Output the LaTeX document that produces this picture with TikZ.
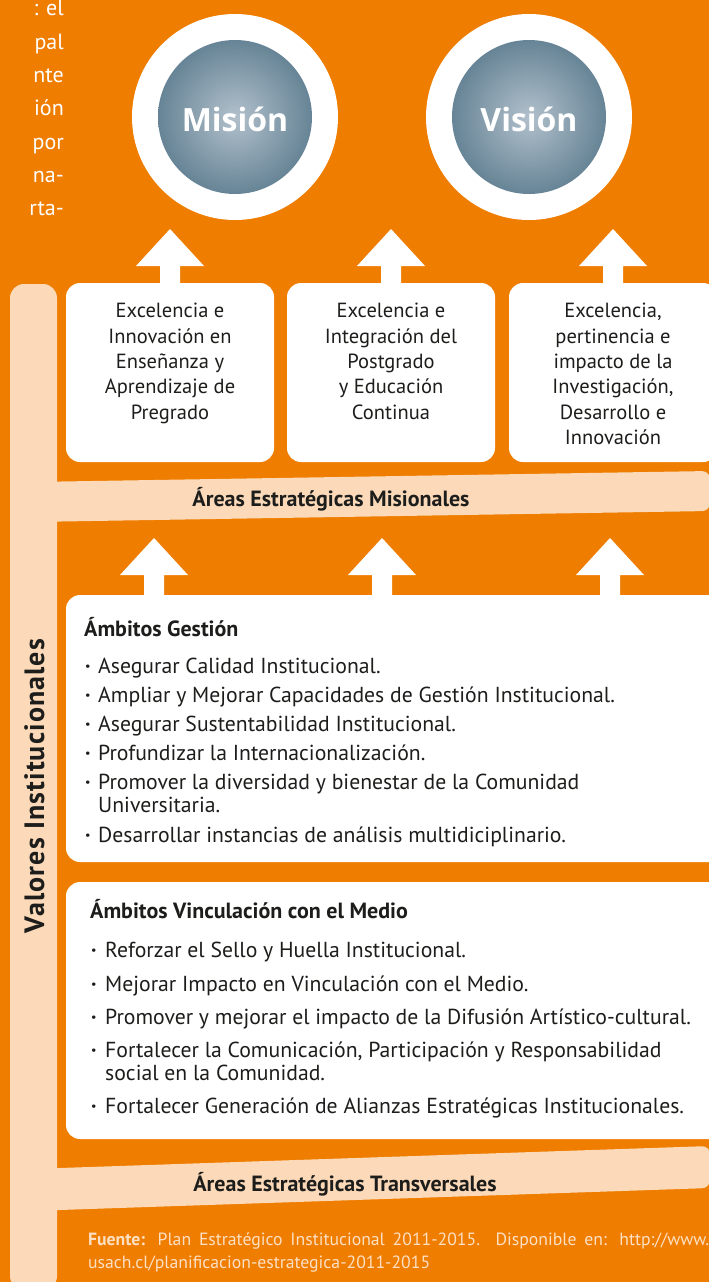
\documentclass[tikz,border=0pt]{standalone}
\usepackage{fontspec}
\setmainfont{PT Sans}
\newfontfamily\orbfont{Open Sans}
\usetikzlibrary{positioning}

\definecolor{usachorange}{RGB}{239,125,0}
\definecolor{usachpeach}{RGB}{252,218,185}
\definecolor{usachink}{RGB}{29,29,27}
\definecolor{orblight}{RGB}{178,192,204}
\definecolor{orbdark}{RGB}{27,73,96}
\definecolor{footink}{RGB}{253,224,196}

\pgfdeclareradialshading{orbshade}{\pgfpoint{0bp}{0bp}}{color(0bp)=(orblight); color(50bp)=(orbdark)}

\newlength{\du}
\setlength{\du}{1pt}

% block arrow: x, tip y, shaft length
\newcommand{\blockup}[3]{%
\fill[white] (#1,#2) -- ++(34,37) -- ++(-24,0) -- ++(0,#3) -- ++(-20,0) -- ++(0,-#3) -- ++(-24,0) -- cycle;}

\tikzset{
  whitebox/.style={fill=white, rounded corners=14\du},
  peachband/.style={fill=usachpeach, rounded corners=8\du},
  snippet/.style={anchor=base east, inner sep=0pt, text=white, font=\fontsize{22}{25}\selectfont},
  orbtext/.style={inner sep=0pt, text=white, font=\orbfont\bfseries\fontsize{32}{36}\selectfont},
  boxtext/.style={anchor=north, align=center, inner sep=0pt, text=usachink, font=\fontsize{20.5}{25.4}\selectfont},
  bandtext/.style={anchor=base, inner sep=0pt, text=usachink, font=\bfseries\fontsize{22}{24}\selectfont},
  listhead/.style={anchor=base west, inner sep=0pt, text=usachink, font=\bfseries\fontsize{22}{24}\selectfont},
  listtext/.style={anchor=base west, inner sep=0pt, text=usachink, font=\fontsize{21.7}{24}\selectfont},
  listdot/.style={anchor=base west, inner sep=0pt, text=usachink, font=\bfseries\fontsize{21.7}{24}\selectfont},
  footnote/.style={anchor=north west, inner sep=0pt, text width=621\du, align=justify, text=footink, font=\fontsize{17.7}{23}\selectfont}
}

\begin{document}
\begin{tikzpicture}[x=\du,y=-\du]
\useasboundingbox (0,0) rectangle (709,1282);
\fill[usachorange] (0,0) rectangle (709,1282);

% text column cut at the left edge
\foreach \txt [count=\i] in {{: el},pal,nte,ión,por,na-,rta-}
  \node[snippet] (cut\i) at (64,{16+33.3*(\i-1)}) {\txt};

% mision / vision
\fill[white] (235,117) circle (103);
\shade[shading=orbshade] (235,117) circle (77);
\node[orbtext] (mision) at (235,119) {Misión};
\fill[white] (529,117) circle (103);
\shade[shading=orbshade] (529,117) circle (77);
\node[orbtext] (vision) at (529,119) {Visión};

\blockup{170}{229}{20}
\blockup{391}{229}{20}
\blockup{613}{229}{20}

% valores bar and bands
\fill[usachpeach, rounded corners=14\du] (10,284) rectangle (57,1290);
\fill[peachband] (30,482) -- (710,471) -- (710,511) -- (30,522) -- cycle;
\fill[peachband] (30,1169) -- (710,1146) -- (710,1188) -- (30,1211) -- cycle;
\node[bandtext, rotate=90] (valores) at (44,786) {\fontsize{28}{30}\selectfont\addfontfeatures{LetterSpace=4}Valores Institucionales};
\node[bandtext] (misionales) at (331,506) {Áreas Estratégicas Misionales};
\node[bandtext] (transversales) at (345,1191) {Áreas Estratégicas Transversales};

% areas misionales
\fill[whitebox] (66,283) rectangle (274,462);
\fill[whitebox] (287,283) rectangle (495,462);
\fill[whitebox] (509,283) rectangle (717,462);
\node[boxtext] (pregrado) at (170,303) {Excelencia e\\Innovación en\\Enseñanza y\\Aprendizaje de\\Pregrado};
\node[boxtext] (postgrado) at (391,303) {Excelencia e\\Integración del\\Postgrado\\y Educación\\Continua};
\node[boxtext] (investigacion) at (613,303) {Excelencia,\\pertinencia e\\impacto de la\\Investigación,\\Desarrollo e\\Innovación};

\blockup{154}{538}{22}
\blockup{382}{538}{22}
\blockup{610}{538}{22}

% ambitos gestion
\fill[whitebox] (66,595) rectangle (725,862);
\node[listhead] (gestion) at (84,636) {Ámbitos Gestión};
\foreach \yy/\txt [count=\i] in {673/{Asegurar Calidad Institucional.},
    702/{Ampliar y Mejorar Capacidades de Gestión Institucional.},
    731/{Asegurar Sustentabilidad Institucional.},
    760/{Profundizar la Internacionalización.},
    789/{Promover la diversidad y bienestar de la Comunidad},
    842/{Desarrollar instancias de análisis multidiciplinario.}}{
  \node[listdot] (gdot\i) at (85,\yy) {·};
  \node[listtext] (gitem\i) at (98,\yy) {\txt};
}
\node[listtext] (gitem5b) at (98,812) {Universitaria.};

% ambitos vinculacion
\fill[whitebox] (66,882) rectangle (725,1139);
\node[listhead] (vinculacion) at (90,918) {Ámbitos Vinculación con el Medio};
\foreach \yy/\txt [count=\i] in {957/{Reforzar el Sello y Huella Institucional.},
    991/{Mejorar Impacto en Vinculación con el Medio.},
    1024/{Promover y mejorar el impacto de la Difusión Artístico-cultural.},
    1057/{Fortalecer la Comunicación, Participación y Responsabilidad},
    1113/{Fortalecer Generación de Alianzas Estratégicas Institucionales.}}{
  \node[listdot] (vdot\i) at (91,\yy) {·};
  \node[listtext] (vitem\i) at (105,\yy) {\txt};
}
\node[listtext] (vitem4b) at (105,1080) {social en la Comunidad.};

% fuente
\node[footnote] (fuente) at (88,1233) {\textbf{Fuente:} Plan Estratégico Institucional 2011-2015. Disponible en: http://www.\linebreak usach.cl/planificacion-estrategica-2011-2015};
\end{tikzpicture}
\end{document}
